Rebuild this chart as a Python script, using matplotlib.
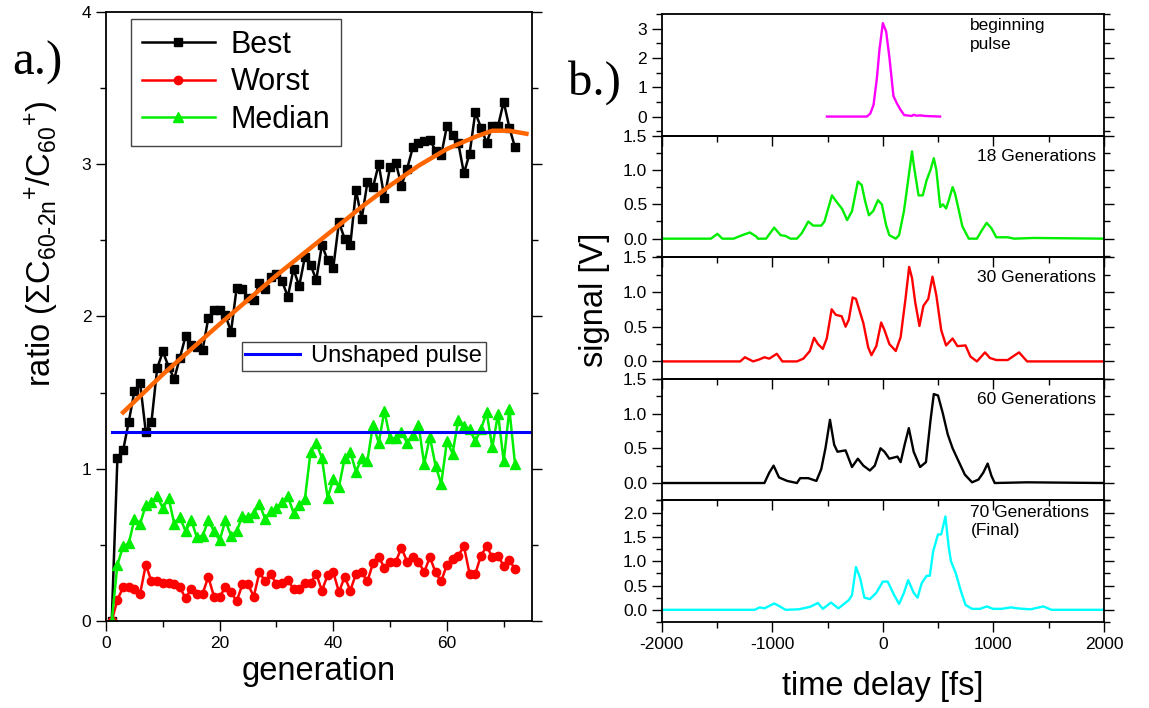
import matplotlib
matplotlib.use("Agg")
import matplotlib.pyplot as plt
from matplotlib.ticker import MultipleLocator

plt.rcParams["font.family"] = ["Liberation Sans", "DejaVu Sans"]
plt.rcParams["mathtext.default"] = "regular"
plt.rcParams["axes.unicode_minus"] = False

# ---- panel a: ratio vs generation ----
generation = list(range(1, 73))
best = [0.00, 1.07, 1.12, 1.31, 1.51, 1.56, 1.24, 1.31, 1.66, 1.77,
        1.67, 1.59, 1.73, 1.87, 1.81, 1.80, 1.78, 1.99, 2.04, 2.04,
        2.01, 1.90, 2.19, 2.18, 2.12, 2.11, 2.22, 2.18, 2.26, 2.28,
        2.23, 2.13, 2.31, 2.20, 2.39, 2.34, 2.24, 2.47, 2.37, 2.32,
        2.62, 2.51, 2.47, 2.83, 2.64, 2.88, 2.85, 3.00, 2.78, 2.98,
        3.01, 2.86, 2.97, 3.11, 3.14, 3.15, 3.16, 3.09, 3.06, 3.25,
        3.19, 3.14, 2.94, 3.07, 3.34, 3.24, 3.14, 3.25, 3.25, 3.41,
        3.24, 3.11]
worst = [0.00, 0.14, 0.22, 0.22, 0.21, 0.18, 0.37, 0.26, 0.26, 0.25,
         0.25, 0.24, 0.22, 0.15, 0.21, 0.18, 0.18, 0.29, 0.16, 0.16,
         0.22, 0.19, 0.13, 0.24, 0.24, 0.16, 0.32, 0.26, 0.31, 0.24,
         0.25, 0.27, 0.21, 0.21, 0.25, 0.25, 0.31, 0.20, 0.30, 0.32,
         0.19, 0.29, 0.20, 0.31, 0.32, 0.26, 0.38, 0.42, 0.35, 0.39,
         0.39, 0.48, 0.39, 0.42, 0.39, 0.32, 0.42, 0.32, 0.26, 0.37,
         0.41, 0.43, 0.49, 0.31, 0.31, 0.43, 0.49, 0.42, 0.43, 0.36,
         0.40, 0.34]
median = [0.00, 0.37, 0.49, 0.51, 0.67, 0.64, 0.76, 0.78, 0.82, 0.74,
          0.81, 0.64, 0.68, 0.59, 0.66, 0.55, 0.56, 0.66, 0.59, 0.53,
          0.66, 0.56, 0.59, 0.69, 0.68, 0.71, 0.77, 0.67, 0.72, 0.74,
          0.78, 0.82, 0.71, 0.76, 0.80, 1.11, 1.17, 1.07, 0.81, 0.93,
          0.88, 1.07, 1.11, 0.98, 1.07, 1.05, 1.29, 1.17, 1.38, 1.20,
          1.20, 1.24, 1.17, 1.22, 1.29, 1.03, 1.21, 1.02, 0.90, 1.18,
          1.10, 1.32, 1.28, 1.26, 1.18, 1.26, 1.37, 1.14, 1.36, 1.05,
          1.39, 1.03]
fit_gen = [3, 10, 20, 30, 40, 45, 50, 55, 60, 65, 68, 71, 74]
fit_val = [1.37, 1.62, 1.95, 2.27, 2.57, 2.72, 2.86, 2.99, 3.10, 3.18, 3.22, 3.22, 3.20]
unshaped_gen = [1, 75]
unshaped_val = [1.24, 1.24]

# ---- panel b: pulse traces, time delay [fs] vs signal [V] ----
t_begin = [-506, -145, -114, -84, -54, -30, 0, 30, 60, 96, 127, 157, 193,
           262, 277, 307, 337, 383, 518]
s_begin = [0.0, 0.0, 0.1, 0.4, 1.3, 2.3, 3.19, 2.9, 2.0, 0.7, 0.45, 0.25,
           0.05, 0.02, 0.06, 0.03, 0.04, 0.02, 0.0]

t_18 = [-2000, -1555, -1496, -1452, -1349, -1305, -1203, -1144, -1130, -1056,
        -983, -924, -880, -836, -777, -733, -674, -630, -557, -528, -460,
        -425, -367, -323, -279, -226, -191, -161, -126, -88, -44, -9, 29,
        59, 117, 147, 191, 229, 264, 279, 323, 361, 396, 431, 461, 484,
        519, 543, 572, 595, 631, 654, 689, 719, 777, 851, 895, 939, 983,
        1026, 1129, 1188, 1364, 2000]
s_18 = [0.0, 0.0, 0.07, 0.0, 0.0, 0.03, 0.09, 0.03, 0.0, 0.0,
        0.16, 0.05, 0.04, 0.0, 0.0, 0.08, 0.25, 0.19, 0.19, 0.25, 0.63,
        0.55, 0.43, 0.27, 0.40, 0.83, 0.78, 0.55, 0.34, 0.40, 0.56, 0.50,
        0.20, 0.05, 0.0, 0.05, 0.40, 0.85, 1.27, 1.08, 0.63, 0.63, 0.85,
        1.0, 1.17, 1.0, 0.46, 0.50, 0.44, 0.55, 0.75, 0.65, 0.40, 0.18,
        0.0, 0.0, 0.12, 0.23, 0.15, 0.02, 0.02, 0.0, 0.01, 0.0]

t_30 = [-2000, -1290, -1247, -1173, -1115, -1071, -1027, -959, -909, -777,
        -719, -660, -622, -587, -543, -507, -463, -425, -372, -337, -308,
        -273, -243, -205, -176, -132, -103, -59, -15, 15, 59, 117, 161,
        205, 238, 264, 293, 331, 367, 411, 449, 484, 528, 572, 631, 675,
        748, 792, 851, 924, 968, 1026, 1129, 1232, 1305, 2000]
s_30 = [0.0, 0.0, 0.06, 0.0, 0.03, 0.06, 0.04, 0.11, 0.0, 0.0,
        0.04, 0.15, 0.34, 0.25, 0.18, 0.33, 0.75, 0.67, 0.65, 0.50, 0.60,
        0.92, 0.90, 0.70, 0.55, 0.20, 0.09, 0.22, 0.56, 0.45, 0.25, 0.15,
        0.35, 0.90, 1.36, 1.20, 0.85, 0.51, 0.80, 0.90, 1.22, 0.95, 0.45,
        0.23, 0.33, 0.22, 0.23, 0.07, 0.0, 0.13, 0.05, 0.02, 0.02, 0.13,
        0.0, 0.0]

t_60 = [-2000, -1071, -1027, -988, -939, -865, -777, -748, -675, -601,
        -557, -519, -478, -440, -410, -337, -279, -226, -176, -117, -73,
        -21, 15, 59, 132, 161, 197, 235, 279, 337, 390, 431, 461, 499,
        543, 587, 631, 689, 742, 807, 865, 909, 948, 983, 1012, 1305, 2000]
s_60 = [0.0, 0.0, 0.15, 0.25, 0.08, 0.03, 0.0, 0.07, 0.07, 0.03,
        0.20, 0.50, 0.91, 0.55, 0.45, 0.47, 0.23, 0.35, 0.25, 0.18, 0.25,
        0.50, 0.45, 0.35, 0.38, 0.30, 0.55, 0.79, 0.45, 0.23, 0.30, 0.90,
        1.28, 1.26, 1.0, 0.70, 0.50, 0.30, 0.12, 0.01, 0.05, 0.15, 0.28,
        0.10, 0.0, 0.01, 0.0]

t_70 = [-2000, -1159, -1115, -1071, -983, -939, -880, -763, -660, -587,
        -543, -469, -402, -308, -279, -243, -205, -167, -117, -59, 0, 44,
        103, 147, 191, 229, 279, 314, 352, 396, 425, 455, 499, 528, 566,
        595, 616, 660, 704, 748, 807, 880, 939, 997, 1071, 1159, 1217,
        1335, 1452, 1525, 2000]
s_70 = [0.0, 0.0, 0.05, 0.03, 0.13, 0.08, 0.0, 0.01, 0.06, 0.14,
        0.02, 0.15, 0.03, 0.20, 0.30, 0.88, 0.65, 0.25, 0.22, 0.35, 0.58,
        0.58, 0.30, 0.12, 0.35, 0.61, 0.35, 0.25, 0.55, 0.70, 0.70, 1.20,
        1.55, 1.55, 1.92, 1.30, 1.0, 0.75, 0.40, 0.10, 0.02, 0.02, 0.07,
        0.02, 0.02, 0.05, 0.03, 0.01, 0.07, 0.0, 0.0]

traces = [
    (t_begin, s_begin, "#ff00ff", "beginning\npulse", (-0.65, 3.5), 1.0, 0.5),
    (t_18, s_18, "#00ee00", "18 Generations", (-0.27, 1.5), 0.5, 0.25),
    (t_30, s_30, "#ff0000", "30 Generations", (-0.25, 1.5), 0.5, 0.25),
    (t_60, s_60, "#000000", "60 Generations", (-0.25, 1.5), 0.5, 0.25),
    (t_70, s_70, "#00ffff", "70 Generations\n(Final)", (-0.25, 2.25), 0.5, 0.25),
]


def style_ticks(ax):
    ax.tick_params(which="both", direction="out", top=False, right=True,
                   labelsize=12.5, width=1.0)
    ax.tick_params(which="major", length=7)
    ax.tick_params(which="minor", length=4)
    for sp in ax.spines.values():
        sp.set_linewidth(1.3)


def main():
    fig = plt.figure(figsize=(11.49, 7.08), dpi=100)

    # ---- a.) ----
    ax = fig.add_axes([0.0923, 0.1229, 0.3708, 0.8602])
    ax.plot(generation, best, "-s", color="black", lw=1.8, ms=6, label="Best")
    ax.plot(generation, worst, "-o", color="#ff0000", lw=1.8, ms=6, label="Worst")
    ax.plot(generation, median, "-^", color="#00ee00", lw=1.8, ms=7, label="Median")
    ax.plot(fit_gen, fit_val, "-", color="#ff6600", lw=3.2, zorder=3)
    blue, = ax.plot(unshaped_gen, unshaped_val, "-", color="#0000ff", lw=2.2,
                    label="Unshaped pulse")
    ax.set_xlim(0, 75)
    ax.set_ylim(0, 4)
    ax.xaxis.set_major_locator(MultipleLocator(20))
    ax.xaxis.set_minor_locator(MultipleLocator(10))
    ax.yaxis.set_major_locator(MultipleLocator(1))
    ax.yaxis.set_minor_locator(MultipleLocator(0.5))
    style_ticks(ax)
    ax.set_xlabel("generation", fontsize=23.5, labelpad=4)
    ax.set_ylabel(r"ratio ($\Sigma$C$_{60\text{-}2n}$$^{+}$/C$_{60}$$^{+}$)",
                  fontsize=23.5)
    ax.yaxis.set_label_coords(-0.105, 0.62)

    h, l = ax.get_legend_handles_labels()
    leg1 = ax.legend(h[:3], l[:3], loc="upper left",
                     bbox_to_anchor=(0.0587, 0.9885), borderaxespad=0,
                     fontsize=22, handlelength=2.4, fancybox=False,
                     edgecolor="#444444", framealpha=1, borderpad=0.35,
                     labelspacing=0.25, handletextpad=0.5)
    leg1.get_frame().set_linewidth(1.0)
    ax.add_artist(leg1)
    leg2 = ax.legend([blue], ["Unshaped pulse"], loc="upper left",
                     bbox_to_anchor=(0.3186, 0.4586), borderaxespad=0,
                     fontsize=17, handlelength=2.3, fancybox=False,
                     edgecolor="#444444", framealpha=1, borderpad=0.15,
                     handletextpad=0.5)
    leg2.get_frame().set_linewidth(1.0)

    fig.text(0.0104, 0.894, "a.)", family="Liberation Serif", fontsize=35)
    fig.text(0.494, 0.866, "b.)", family="Liberation Serif", fontsize=35)

    # ---- b.) ----
    gs = fig.add_gridspec(5, 1, left=0.5759, right=0.9608, bottom=0.1215,
                          top=0.9802, hspace=0)
    axes = []
    for i, (t, s, color, label, ylim, major, minor) in enumerate(traces):
        bx = fig.add_subplot(gs[i, 0])
        bx.patch.set_visible(False)
        bx.plot(t, s, color=color, lw=1.7)
        bx.set_xlim(-2000, 2000)
        bx.set_ylim(*ylim)
        bx.xaxis.set_major_locator(MultipleLocator(1000))
        bx.xaxis.set_minor_locator(MultipleLocator(500))
        bx.yaxis.set_major_locator(MultipleLocator(major))
        bx.yaxis.set_minor_locator(MultipleLocator(minor))
        if major == 0.5:
            bx.yaxis.set_major_formatter(lambda v, p: f"{v:.1f}")
        style_ticks(bx)
        if i < len(traces) - 1:
            bx.tick_params(labelbottom=False)
        if "\n" in label:
            bx.text(0.698, 0.965, label, transform=bx.transAxes, fontsize=12.5,
                    ha="left", va="top", linespacing=1.3)
        else:
            bx.text(0.982, 0.83, label, transform=bx.transAxes, fontsize=12.5,
                    ha="right", va="center")
        axes.append(bx)

    axes[-1].set_xlabel("time delay [fs]", fontsize=23.5, labelpad=14)
    fig.text(0.517, 0.576, "signal [V]", rotation=90, fontsize=23.5,
             ha="center", va="center")

    fig.savefig("out.png", dpi=100)


if __name__ == "__main__":
    main()
